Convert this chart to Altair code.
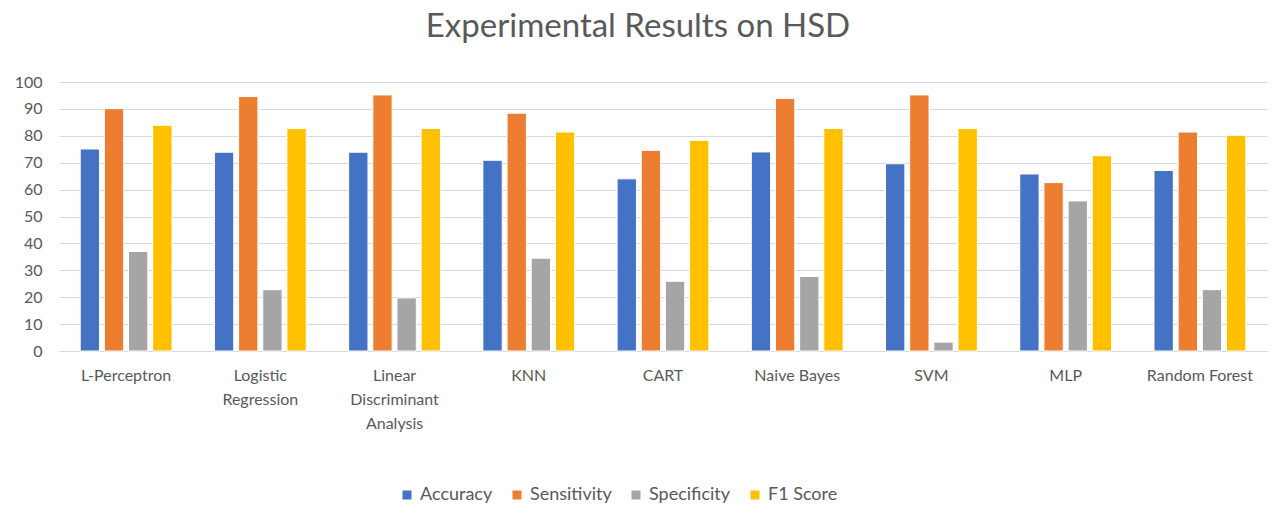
import altair as alt
import pandas as pd

models = ["L-Perceptron", "Logistic Regression", "Linear Discriminant Analysis", "KNN",
          "CART", "Naive Bayes", "SVM", "MLP", "Random Forest"]
metrics = ["Accuracy", "Sensitivity", "Specificity", "F1 Score"]
accuracy = [75.1, 73.9, 73.9, 70.9, 64.0, 74.0, 69.6, 65.8, 67.1]
sensitivity = [90.1, 94.6, 95.2, 88.4, 74.6, 93.9, 95.2, 62.6, 81.4]
specificity = [37.0, 22.8, 19.7, 34.5, 25.9, 27.7, 3.3, 55.8, 22.8]
f1_score = [83.9, 82.7, 82.7, 81.4, 78.3, 82.7, 82.7, 72.6, 80.2]
colors = ["#4472C4", "#ED7D31", "#A5A5A5", "#FFC000"]
y_ticks = [0, 10, 20, 30, 40, 50, 60, 70, 80, 90, 100]
wrapped = {
    "Logistic Regression": ["Logistic", "Regression"],
    "Linear Discriminant Analysis": ["Linear", "Discriminant", "Analysis"],
}

rows = []
for series, vals in zip(metrics, [accuracy, sensitivity, specificity, f1_score]):
    for m, v in zip(models, vals):
        rows.append({"Model": m, "Metric": series, "Value": v})
df = pd.DataFrame(rows)

label_expr = ""
for k, parts in wrapped.items():
    arr = "[" + ",".join("'" + p + "'" for p in parts) + "]"
    label_expr += f"datum.label == '{k}' ? {arr} : "
label_expr += "datum.label"

FONT = "Lato"
TXT = "#595959"

bars = alt.Chart(df).mark_bar(stroke="white", strokeWidth=1).encode(
    x=alt.X("Model:N", sort=models, title=None,
            scale=alt.Scale(paddingInner=0.28, paddingOuter=0.14),
            axis=alt.Axis(labelAngle=0, labelExpr=label_expr, labelLineHeight=24,
                          labelPadding=16, ticks=False, domain=True, domainColor="#D9D9D9",
                          labelFont=FONT, labelFontSize=16, labelColor=TXT, grid=False)),
    xOffset=alt.XOffset("Metric:N", sort=metrics,
                        scale=alt.Scale(paddingInner=0.2, paddingOuter=0.1)),
    y=alt.Y("Value:Q", title=None, scale=alt.Scale(domain=[0, 100], nice=False),
            axis=alt.Axis(values=y_ticks, ticks=False, domain=False, gridColor="#D9D9D9",
                          labelPadding=17, labelFont=FONT, labelFontSize=16, labelColor=TXT)),
    color=alt.Color("Metric:N", sort=metrics,
                    scale=alt.Scale(domain=metrics, range=colors),
                    legend=alt.Legend(orient="none", direction="horizontal", title=None,
                                      legendX=339, legendY=404, symbolType="square",
                                      symbolSize=81, symbolStrokeWidth=0, labelOffset=4,
                                      columnPadding=15, padding=0, labelFont=FONT,
                                      labelFontSize=18, labelColor=TXT)),
)

chart = bars.properties(
    width=1208, height=269,
    padding={"left": 51, "top": 74, "right": 3, "bottom": 169},
    autosize=alt.AutoSizeParams(type="none"),
    title=alt.TitleParams("Experimental Results on HSD", font=FONT, fontSize=33,
                          fontWeight="normal", color=TXT, anchor="middle", dx=-25,
                          offset=30),
).configure_view(stroke=None)

chart.save("out.html", embed_options={"renderer": "svg", "actions": False})
